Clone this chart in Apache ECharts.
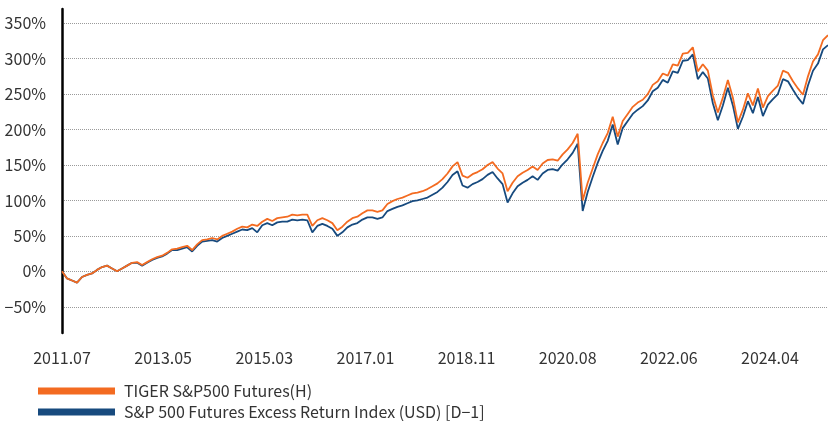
<!DOCTYPE html>
<html><head><meta charset="utf-8">
<script src="https://cdn.jsdelivr.net/npm/echarts@6/dist/echarts.min.js"></script>
<style>html,body{margin:0;padding:0;background:#fff}#c{width:828px;height:421px}</style>
</head><body><div id="c"></div><script>
// x-axis tick labels shown under the chart
const tickLabels = ['2011.07','2013.05','2015.03','2017.01','2018.11','2020.08','2022.06','2024.04'];
const seriesNames = ['TIGER S&P500 Futures(H)', 'S&P 500 Futures Excess Return Index (USD) [D\u22121]'];
const startYear = 2011, startMonth = 7;

// cumulative return (%) – monthly readings
const tiger = [0,-10,-13,-16,-8,-5,-3,2,6,8,4,0,4,8,12,13,9,13,17,20,22,26,31,32,34,36,30,38,44,45,
47,45,50,53,56,60,63,62,66,64,70,
74,71,75,76,77,80,79,80,80,64,72,75,72,68,58,63,70,75,77,
82,86,86,84,86,95,99,102,104,107,110,111,113,116,120,124,130,138,
148,154,135,132,137,140,144,150,154,
145,138,113,125,134,139,143,148,143,152,157,158,156,165,172,
181,194,100,125,145,165,181,195,218,190,212,222,232,238,
242,250,263,268,279,276,292,290,307,308,316,282,292,283,248,224,245,270,245,210,228,251,234,258,231,247,255,262,283,280,268,258,249,275,296,306,326,333];

const spx = [0,-10,-13,-16,-8,-5,-3,2,6,8,4,0,4,8,12,12,8,12,16,19,21,25,30,30,32,34,28,36,42,43,
44,42,47,50,53,56,59,58,61,55,65,
68,65,69,70,70,73,72,73,72,55,64,67,64,60,50,55,62,66,68,
73,76,76,74,76,85,88,91,93,96,99,100,102,104,108,112,118,126,
136,141,121,118,123,126,130,136,140,
131,123,97,110,120,125,129,134,129,138,143,144,142,151,158,
167,180,85,112,133,153,170,184,207,179,202,212,222,228,
233,241,254,259,270,266,282,280,297,298,306,271,281,272,237,213,234,259,234,201,218,240,223,246,219,235,243,250,271,268,256,245,236,262,283,293,313,319];

const months = tiger.map((_, i) => {
  const m = startMonth - 1 + i;
  return (startYear + Math.floor(m / 12)) + '.' + String(m % 12 + 1).padStart(2, '0');
});

const FONT = '"Noto Sans CJK KR", "Noto Sans", sans-serif';
const TXT = '#333';
const legendBase = {
  orient: 'horizontal', left: 33, itemWidth: 77, itemHeight: 7, icon: 'rect',
  textStyle: {fontFamily: FONT, fontSize: 16, color: TXT, padding: [0, 0, 0, 4]}
};

const chart = echarts.init(document.getElementById('c'), null, {renderer: 'canvas'});
chart.setOption({
  animation: false,
  textStyle: {fontFamily: FONT},
  grid: {left: 62, right: 0, top: 9, bottom: 88, containLabel: false},
  legend: [
    Object.assign({}, legendBase, {top: 378, data: [seriesNames[0]]}),
    Object.assign({}, legendBase, {top: 399, data: [seriesNames[1]]})
  ],
  xAxis: [
    {type: 'category', data: months, boundaryGap: false, show: false},
    {type: 'value', min: 0, max: 7.574, interval: 1, position: 'bottom',
     axisLine: {show: false}, axisTick: {show: false}, splitLine: {show: false},
     axisLabel: {margin: 17, fontFamily: FONT, fontSize: 16, color: TXT, showMaxLabel: false,
       formatter: v => (tickLabels[v] !== undefined ? tickLabels[v] : '')}}
  ],
  yAxis: {
    type: 'value', min: -87, max: 370, minInterval: 50, maxInterval: 50,
    axisLine: {show: true, onZero: false, lineStyle: {color: '#000', width: 2.5}},
    axisTick: {show: false},
    axisLabel: {margin: 16, fontFamily: FONT, fontSize: 16, color: TXT, showMinLabel: false, showMaxLabel: false,
      formatter: v => (v < 0 ? '\u2212' + (-v) : v) + '%'},
    splitLine: {show: true, showMinLine: false, showMaxLine: false, lineStyle: {type: 'dotted', color: '#9a9a9a', width: 1}}
  },
  series: [
    {name: seriesNames[1], type: 'line', data: spx, xAxisIndex: 0, yAxisIndex: 0, symbol: 'none',
     lineStyle: {color: '#174A7E', width: 1.8}, itemStyle: {color: '#174A7E'}},
    {name: seriesNames[0], type: 'line', data: tiger, xAxisIndex: 0, yAxisIndex: 0, symbol: 'none',
     lineStyle: {color: '#F36B21', width: 1.8}, itemStyle: {color: '#F36B21'}}
  ]
});
</script></body></html>
